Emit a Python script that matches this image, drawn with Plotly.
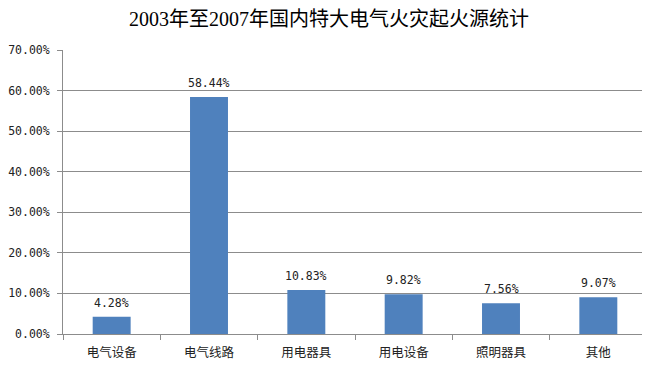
import plotly.graph_objects as go

categories = ["电气设备", "电气线路", "用电器具", "用电设备", "照明器具", "其他"]
values = [4.28, 58.44, 10.83, 9.82, 7.56, 9.07]
value_labels = ["4.28%", "58.44%", "10.83%", "9.82%", "7.56%", "9.07%"]
y_ticks = [0, 10, 20, 30, 40, 50, 60, 70]
y_tick_labels = ["0.00%", "10.00%", "20.00%", "30.00%", "40.00%", "50.00%", "60.00%", "70.00%"]
title_text = "2003年至2007年国内特大电气火灾起火源统计"

# page body has an 8px default margin, so the figure is sized to fill the rest of the window
W, H = 642, 361

fig = go.Figure(go.Bar(
    x=categories, y=values,
    marker=dict(color="#4F81BD", line=dict(width=0)),
))

for c, v, lab in zip(categories, values, value_labels):
    fig.add_annotation(x=c, y=v, text=lab, showarrow=False, yanchor="middle", yshift=14,
                       font=dict(family="DejaVu Sans Mono, monospace", size=11.5, color="#222222"))

fig.update_layout(
    width=W, height=H,
    margin=dict(l=55, r=3, t=42, b=35, autoexpand=False),
    paper_bgcolor="white", plot_bgcolor="white",
    bargap=0.61,
    showlegend=False,
    title=dict(text=title_text, x=0.5, xanchor="center", y=1 - 11 / H, yanchor="middle",
               font=dict(family="Liberation Serif, Noto Sans CJK SC, serif", size=20, color="black")),
    xaxis=dict(showline=True, linecolor="#8c8c8c", linewidth=1, automargin=False,
               ticks="outside", tickson="boundaries", ticklen=5, tickcolor="#8c8c8c",
               ticklabelstandoff=7,
               tickfont=dict(family="Noto Sans CJK SC", size=12.5, color="#222222"),
               showgrid=False),
    yaxis=dict(range=[0, 70], tickvals=y_ticks, ticktext=y_tick_labels, automargin=False,
               showline=True, linecolor="#8c8c8c", linewidth=1,
               ticks="outside", ticklen=5, tickcolor="#8c8c8c", ticklabelstandoff=5,
               showgrid=True, gridcolor="#8c8c8c", gridwidth=1, zeroline=False,
               tickfont=dict(family="DejaVu Sans Mono, monospace", size=11.5, color="#222222")),
)

fig.write_html("out.html")
